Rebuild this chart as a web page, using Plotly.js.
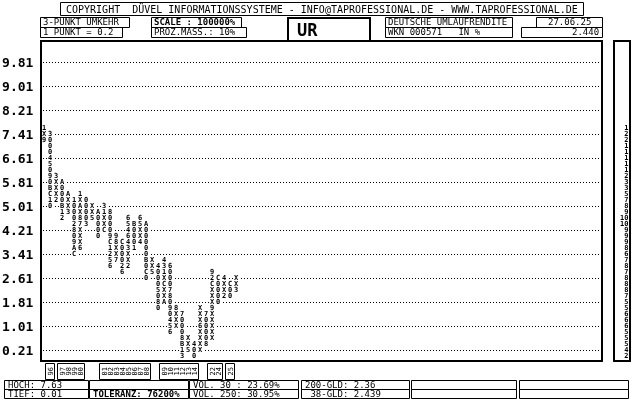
<!DOCTYPE html>
<html><head><meta charset="utf-8">
<script src="https://cdn.plot.ly/plotly-3.0.1.min.js"></script>
<style>html,body{margin:0;padding:0;background:#fff}#chart{width:640px;height:400px}#chart .main-svg{will-change:transform}</style>
</head><body><div id="chart"></div>
<script>
// ---------------- data ----------------
const boxSize = 0.2;
// lowest box of each point & figure column (price)
const colLow = [7.21, 5.01, 5.21, 4.61, 4.81, 3.41, 3.61, 4.41, 4.61, 4.01, 4.21, 3.01, 3.21, 2.81, 3.01, 3.61, 3.81, 2.61, 2.81, 1.61, 1.81, 0.81, 1.01, 0.01, 0.21, 0.01, 0.21, 0.41, 0.61, 1.81, 2.01, 2.01, 2.21];
// box contents of each column, bottom to top (X / 0, month markers 1-9,A,B,C)
const colBoxes = ["9X1","01CB090540003","2XXX3","21B000A","3XXA","CA90820001","6XXX78XAX1","30000","5XX","0000A","CXX13","6521C90008","7XX89","62000C","2XX346456","1000B","4XX56","0C0B00000A","5XX","08050004","AXXCX134","654090870006","XXX8","31B80007","5XX","004","XXXX6XXX","800007","XXXXX9XXXC29","0000C","2XX4","00C","3XX"];
const priceTicks = [9.81, 9.01, 8.21, 7.41, 6.61, 5.81, 5.01, 4.21, 3.41, 2.61, 1.81, 1.01, 0.21];
const yearLabelCols = [1, 3, 4, 5, 6, 10, 11, 12, 13, 14, 15, 16, 17, 20, 21, 22, 23, 24, 25, 28, 29, 31];
const yearLabels = ["96","97","98","99","00","01","02","03","04","05","06","07","08","09","10","11","12","13","14","22","24","25"];
const copyrightText = "COPYRIGHT  DÜVEL INFORMATIONSSYSTEME - INFO@TAPROFESSIONAL.DE - WWW.TAPROFESSIONAL.DE";
const headerLeft = ["3-PUNKT UMKEHR", "1 PUNKT = 0.2"];
const headerMid = ["SCALE : 100000%", "PROZ.MASS.: 10%"];
const symbolName = "UR";
const headerRight = ["DEUTSCHE UMLAUFRENDITE", "WKN 000571   IN %"];
const dateText = "27.06.25";
const lastValue = "2.440";
const footerTop = ["HOCH: 7.63", "", "VOL. 30 : 23.69%", "200-GLD: 2.36", "", ""];
const footerBottom = ["TIEF: 0.01", "TOLERANZ: 76200%", "VOL. 250: 30.95%", " 38-GLD: 2.439", "", ""];

// ---------------- build ----------------
const xs = [], ys = [], ts = [];
const counts = {};
colBoxes.forEach((s, c) => {
  for (let i = 0; i < s.length; i++) {
    const y = Math.round((colLow[c] + boxSize * i) * 100) / 100;
    xs.push(c); ys.push(y); ts.push(s[i]);
    counts[y] = (counts[y] || 0) + 1;
  }
});
const cntY = Object.keys(counts).map(Number);
const cntT = cntY.map(y => String(counts[y]));

// pixel helpers for layout furniture
const L = 40, T = 40, W = 591, H = 322;
const px = x => (x - L) / W;
const py = y => (T + H - y) / H;
const colPx = c => 44 + 6 * c;

const mono = 'DejaVu Sans Mono';
const shapes = [];
const ann = [];
function box(x0, y0, x1, y1, w) {
  shapes.push({type:'rect', xref:'paper', yref:'paper', x0:px(x0), x1:px(x1), y0:py(y0), y1:py(y1),
    line:{color:'#000', width:w || 1}, fillcolor:'rgba(0,0,0,0)'});
}
function txt(x, y, s, anchor, opts) {
  opts = opts || {};
  ann.push({xref:'paper', yref:'paper', x:px(x), y:py(y), text:s, showarrow:false,
    xanchor:anchor || 'left', yanchor:'middle', textangle:opts.angle || 0, borderpad:0,
    font:{family:mono, size:opts.size || 9, color:'#000', weight:opts.bold ? 'bold' : 'normal'}});
}

// main frame and right panel
box(41, 41, 602, 361, 2);
box(614, 41, 630, 361, 2);

// header
box(60.5, 2.5, 583.5, 15.5); txt(322, 9, copyrightText, 'center', {size:10});
box(40.5, 17.5, 129.5, 27.5); txt(42, 22.5, headerLeft[0]);
box(40.5, 27.5, 122.5, 37.5); txt(42, 32.5, headerLeft[1]);
box(151.5, 17.5, 241.5, 27.5); txt(153, 22.5, headerMid[0], 'left', {bold:true});
box(151.5, 27.5, 246.5, 37.5); txt(153, 32.5, headerMid[1]);
box(288, 18, 370, 41, 2); txt(296, 30, symbolName, 'left', {size:17, bold:true});
box(385.5, 17.5, 512.5, 27.5); txt(387, 22.5, headerRight[0]);
box(385.5, 27.5, 512.5, 37.5); txt(387, 32.5, headerRight[1]);
box(536.5, 17.5, 602.5, 27.5); txt(569, 22.5, dateText, 'center');
box(521.5, 27.5, 602.5, 37.5); txt(600, 32.5, lastValue, 'right');

// year labels below the chart
let groups = [];
yearLabelCols.forEach((c, i) => {
  const g = groups[groups.length - 1];
  if (g && c === g[1] + 1) g[1] = c; else groups.push([c, c]);
  txt(colPx(c), 371.5, yearLabels[i], 'center', {size:7, angle:-90});
});
groups.forEach(g => box(colPx(g[0]) - 4.5, 363.5, colPx(g[1]) + 4.5, 379.5));

// footer
const fx = [[4.5, 88.5], [89.5, 188.5], [189.5, 298.5], [301.5, 409.5], [411.5, 516.5], [519.5, 628.5]];
fx.forEach((b, i) => {
  box(b[0], 380.5, b[1], 389.5); box(b[0], 389.5, b[1], 398.5);
  if (footerTop[i]) txt(b[0] + 2, 385, footerTop[i]);
  if (footerBottom[i]) txt(b[0] + 2, 394, footerBottom[i], 'left', {bold: i === 1});
});

const yr = [-0.19, -0.19 + H / 30];
const xr0 = -0.6667;
const traces = [
  {type:'scatter', mode:'markers+text', x:xs, y:ys, text:ts, textposition:'middle center',
   marker:{symbol:'square', size:6, color:'#fff'},
   textfont:{family:mono, size:7, color:'#000', weight:'bold'}, hoverinfo:'skip', cliponaxis:false},
  {type:'scatter', mode:'text', x:cntY.map(() => 0.86), y:cntY, text:cntT, textposition:'middle left',
   textfont:{family:mono, size:7, color:'#000', weight:'bold'}, xaxis:'x2', yaxis:'y2', hoverinfo:'skip'}
];
const layout = {
  width:640, height:400, margin:{l:L, r:640 - L - W, t:T, b:400 - T - H, pad:0},
  paper_bgcolor:'#fff', plot_bgcolor:'#fff', showlegend:false,
  font:{family:mono, color:'#000'},
  xaxis:{domain:[0, px(603)], range:[xr0, xr0 + 563 / 6], visible:false, fixedrange:true},
  yaxis:{domain:[0, 1], range:yr, tickvals:priceTicks, ticktext:priceTicks.map(v => v.toFixed(2)),
    showgrid:true, gridcolor:'#000', gridwidth:1, griddash:'1px,2px', zeroline:false, showline:false,
    ticks:'outside', ticklen:3, tickcolor:'rgba(0,0,0,0)',
    tickfont:{family:mono, size:13, color:'#000', weight:'bold'}, fixedrange:true},
  xaxis2:{domain:[px(613), 1], range:[0, 1], visible:false, anchor:'y2', fixedrange:true},
  yaxis2:{domain:[0, 1], range:yr, visible:false, anchor:'x2', fixedrange:true},
  shapes:shapes, annotations:ann
};
Plotly.newPlot('chart', traces, layout, {staticPlot:true, displayModeBar:false});
</script></body></html>
